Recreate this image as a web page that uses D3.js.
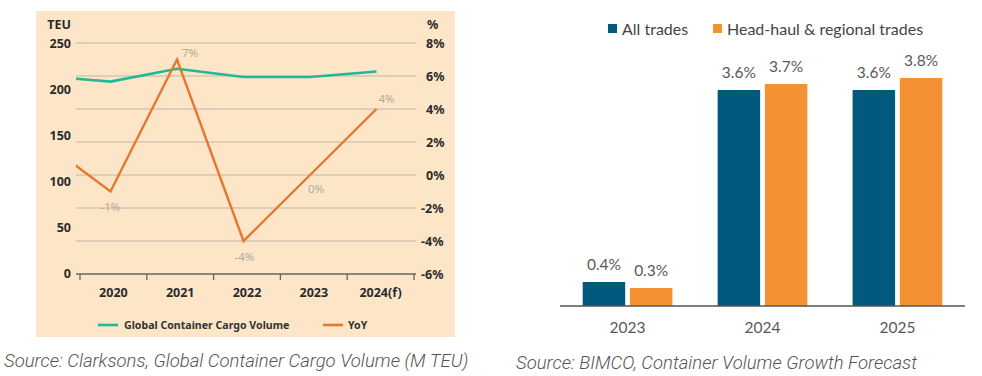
<!DOCTYPE html>
<html>
<head>
<meta charset="utf-8">
<script src="https://cdn.jsdelivr.net/npm/d3@7"></script>
<style>
  body { margin: 0; background: #fff; }
  svg { display: block; }
  .tick-lbl { font-family: 'Noto Sans', sans-serif; font-weight: 700; font-size: 12.5px; fill: #2b2b2b; }
  .pt-lbl { font-family: 'Noto Sans', sans-serif; font-size: 11.5px; fill: #b3a898; }
  .leg-l { font-family: 'Noto Sans', sans-serif; font-weight: 700; font-size: 10.6px; fill: #333; }
  .caption { font-family: Roboto, sans-serif; font-weight: 300; font-style: italic; font-size: 18.5px; fill: #555; }
  .bar-txt { font-family: Lato, sans-serif; font-size: 15.5px; fill: #595959; }
  .leg-r { font-family: Lato, sans-serif; font-size: 16px; fill: #444; }
</style>
</head>
<body>
<svg id="chart" width="982" height="376"></svg>
<script>
// left chart: Clarksons
const years = [2019, 2020, 2021, 2022, 2023, 2024]
const yearLabels = ['2020', '2021', '2022', '2023', '2024(f)']
const volume = [214, 208, 222, 213, 213, 219]   // M TEU
const yoy = [2, -1, 7, -4, 0, 4]                // %
const teuTicks = [0, 50, 100, 150, 200, 250]
const pctTicks = [-6, -4, -2, 0, 2, 4, 6, 8]

// right chart: BIMCO
const fcYears = ['2023', '2024', '2025']
const allTrades = [0.4, 3.6, 3.6]
const headHaul = [0.3, 3.7, 3.8]
const seriesNames = ['All trades', 'Head-haul & regional trades']

const GREEN = '#22b896'
const ORANGE_L = '#e5782e'
const NAVY = '#02587d'
const ORANGE_R = '#f39133'

const $svg = d3.select('#chart')

// ---------- left panel ----------
const L = { left: 76, right: 416, top: 43, bottom: 274 }

$svg.append('rect')
  .attr('x', 36).attr('y', 11)
  .attr('width', 419).attr('height', 326)
  .attr('fill', '#fde5c8')

const yTeu = d3.scaleLinear().domain([0, 250]).range([L.bottom - 1, L.top])
const yPct = d3.scaleLinear().domain([-6, 8]).range([L.bottom, L.top])
const xBand = d3.scaleBand().domain(yearLabels).range([80, 414])
const xYear = d3.scaleLinear().domain([2020, 2024]).range([110.5, 376.5])

// gridlines follow the % axis
$svg.append('g')
  .selectAll('line')
  .data(pctTicks.slice(1))
  .join('line')
    .attr('x1', L.left).attr('x2', L.right)
    .attr('y1', d => yPct(d)).attr('y2', d => yPct(d))
    .attr('stroke', '#d3c6b4')
    .attr('stroke-width', 1.3)

// bottom axis
const xAxis = $svg.append('g')
  .attr('transform', `translate(0, ${L.bottom})`)
  .call(d3.axisBottom(xBand).tickSize(0).tickPadding(14))
xAxis.select('.domain').remove()
xAxis.selectAll('text').attr('class', 'tick-lbl')
$svg.append('line')
  .attr('x1', L.left).attr('x2', L.right)
  .attr('y1', L.bottom).attr('y2', L.bottom)
  .attr('stroke', '#666').attr('stroke-width', 1.3)
$svg.append('g')
  .selectAll('line')
  .data([80].concat(yearLabels.map(d => xBand(d) + xBand.bandwidth())))
  .join('line')
    .attr('x1', d => d).attr('x2', d => d)
    .attr('y1', L.bottom).attr('y2', L.bottom + 6)
    .attr('stroke', '#666').attr('stroke-width', 1.3)

// left axis labels
$svg.append('g')
  .selectAll('text')
  .data(teuTicks)
  .join('text')
    .attr('class', 'tick-lbl')
    .attr('x', 71).attr('y', d => yTeu(d))
    .attr('dy', '0.36em')
    .attr('text-anchor', 'end')
    .text(d => d)
$svg.append('text').attr('class', 'tick-lbl')
  .attr('x', 71).attr('y', 29).attr('text-anchor', 'end').text('TEU')

// right axis labels
$svg.append('g')
  .selectAll('text')
  .data(pctTicks)
  .join('text')
    .attr('class', 'tick-lbl')
    .attr('x', d => d < 0 ? 421 : 426).attr('y', d => yPct(d))
    .attr('dy', '0.36em')
    .text(d => d + '%')
$svg.append('text').attr('class', 'tick-lbl')
  .attr('x', 427).attr('y', 29).text('%')

// lines (2019 point clipped at plot edge)
$svg.append('clipPath').attr('id', 'plot-clip')
  .append('rect')
    .attr('x', L.left).attr('y', 0)
    .attr('width', L.right - L.left).attr('height', 376)

const lineGen = vals => d3.line()
  .x((d, i) => xYear(years[i]))
  .y(d => d)(vals)

const $lines = $svg.append('g').attr('clip-path', 'url(#plot-clip)')
$lines.append('path')
  .attr('d', lineGen(volume.map(v => yTeu(v))))
  .attr('fill', 'none')
  .attr('stroke', GREEN)
  .attr('stroke-width', 2.6)
$lines.append('path')
  .attr('d', lineGen(yoy.map(v => yPct(v))))
  .attr('fill', 'none')
  .attr('stroke', ORANGE_L)
  .attr('stroke-width', 2.4)
  .attr('stroke-linejoin', 'miter')

// yoy labels
const lblOffset = { 2020: [0, 15], 2021: [13, -7], 2022: [1, 16], 2023: [6, 14], 2024: [10, -10] }
$svg.append('g')
  .selectAll('text')
  .data(years.slice(1))
  .join('text')
    .attr('class', 'pt-lbl')
    .attr('text-anchor', 'middle')
    .attr('x', d => xYear(d) + lblOffset[d][0])
    .attr('y', (d, i) => yPct(yoy[i + 1]) + lblOffset[d][1])
    .attr('dy', '0.35em')
    .text((d, i) => yoy[i + 1] + '%')

// legend
const legL = $svg.append('g')
legL.append('line').attr('x1', 98).attr('x2', 118).attr('y1', 325).attr('y2', 325)
  .attr('stroke', GREEN).attr('stroke-width', 2.6)
legL.append('text').attr('class', 'leg-l').attr('x', 124).attr('y', 325)
  .attr('dy', '0.35em').text('Global Container Cargo Volume')
legL.append('line').attr('x1', 323).attr('x2', 343).attr('y1', 325).attr('y2', 325)
  .attr('stroke', ORANGE_L).attr('stroke-width', 2.6)
legL.append('text').attr('class', 'leg-l').attr('x', 348).attr('y', 325)
  .attr('dy', '0.35em').text('YoY')

$svg.append('text').attr('class', 'caption')
  .attr('x', 4).attr('y', 367)
  .text('Source: Clarksons, Global Container Cargo Volume (M TEU)')

// ---------- right panel ----------
const R = { left: 560, right: 965, baseline: 306 }
const x0 = d3.scaleBand().domain(fcYears).range([R.left, R.right]).paddingInner(0.335).paddingOuter(0.168)
const x1 = d3.scaleBand().domain(seriesNames).range([0, x0.bandwidth()]).paddingInner(0.1)
const yBar = d3.scaleLinear().domain([0, 3.6]).range([R.baseline, 90])
const colour = d3.scaleOrdinal().domain(seriesNames).range([NAVY, ORANGE_R])

const barData = fcYears.map((y, i) => ({ year: y, vals: [allTrades[i], headHaul[i]] }))

const $groups = $svg.append('g')
  .selectAll('g')
  .data(barData)
  .join('g')
    .attr('transform', d => `translate(${x0(d.year)}, 0)`)

$groups.selectAll('rect')
  .data(d => d.vals.map((v, j) => ({ name: seriesNames[j], v })))
  .join('rect')
    .attr('x', d => x1(d.name))
    .attr('y', d => yBar(d.v))
    .attr('width', x1.bandwidth())
    .attr('height', d => R.baseline - yBar(d.v))
    .attr('fill', d => colour(d.name))

$groups.selectAll('text')
  .data(d => d.vals.map((v, j) => ({ name: seriesNames[j], v })))
  .join('text')
    .attr('class', 'bar-txt')
    .attr('text-anchor', 'middle')
    .attr('x', d => x1(d.name) + x1.bandwidth() / 2)
    .attr('y', d => yBar(d.v) - 12)
    .text(d => d.v.toFixed(1) + '%')

$svg.append('line')
  .attr('x1', R.left).attr('x2', R.right)
  .attr('y1', R.baseline).attr('y2', R.baseline)
  .attr('stroke', '#555').attr('stroke-width', 1.3)

const xAxisR = $svg.append('g')
  .attr('transform', `translate(0, ${R.baseline})`)
  .call(d3.axisBottom(d3.scaleBand().domain(fcYears).range([R.left, R.right])).tickSize(0).tickPadding(16))
xAxisR.select('.domain').remove()
xAxisR.selectAll('text').attr('class', 'bar-txt')

// legend
const legR = $svg.append('g')
  .selectAll('g')
  .data(seriesNames)
  .join('g')
    .attr('transform', (d, i) => `translate(${[608, 713][i]}, 29)`)
legR.append('rect').attr('x', 0).attr('y', -5).attr('width', 9).attr('height', 9)
  .attr('fill', d => colour(d))
legR.append('text').attr('class', 'leg-r').attr('x', 14).attr('dy', '0.35em')
  .text(d => d)

$svg.append('text').attr('class', 'caption')
  .attr('x', 516).attr('y', 369)
  .text('Source: BIMCO, Container Volume Growth Forecast')
</script>
</body>
</html>
